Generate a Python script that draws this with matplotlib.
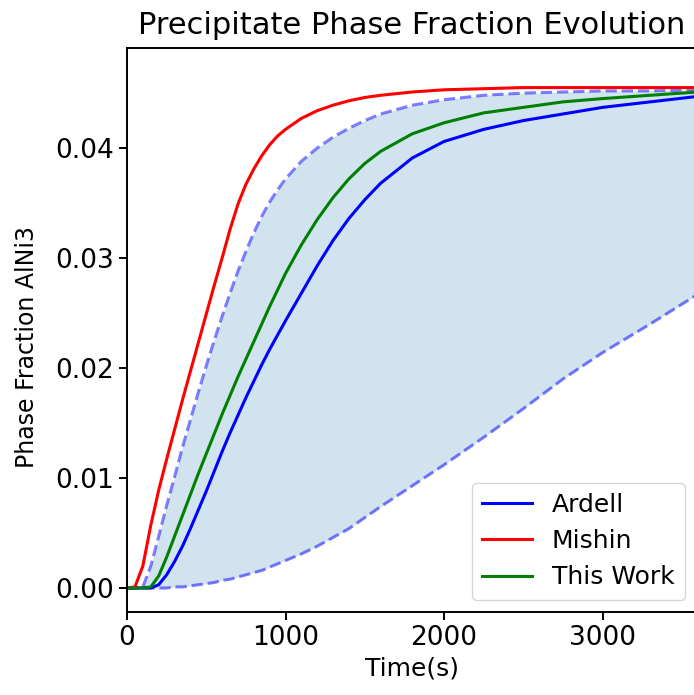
import matplotlib
matplotlib.use("Agg")
import matplotlib.pyplot as plt

# time grid (s)
time_s = [0, 50, 100, 150, 200, 250, 300, 350, 400, 450, 500, 550, 600, 650, 700,
          750, 800, 850, 900, 950, 1000,
          1100, 1200, 1300, 1400, 1500, 1600,
          1800, 2000, 2250, 2500, 2750, 3000, 3300, 3600]

# phase fraction AlNi3
ardell = [0, 0, 0, 0, 0.0003, 0.0012, 0.0024, 0.0038, 0.0054, 0.0071, 0.0088,
          0.0106, 0.0124, 0.0141, 0.0157, 0.0173, 0.0188, 0.0203, 0.0217, 0.0230, 0.0243,
          0.0268, 0.0293, 0.0316, 0.0336, 0.0353, 0.0368,
          0.0391, 0.0406, 0.0417, 0.0425, 0.0431, 0.0437, 0.0442, 0.0447]
mishin = [0, 0.0001, 0.0020, 0.0057, 0.0089, 0.0117, 0.0144, 0.0171, 0.0197, 0.0223,
          0.0249, 0.0275, 0.0300, 0.0326, 0.0349, 0.0367, 0.0381, 0.0393, 0.0403, 0.0411,
          0.0417,
          0.0427, 0.0434, 0.0439, 0.0443, 0.0446, 0.0448,
          0.0451, 0.0453, 0.0454, 0.0455, 0.0455, 0.0455, 0.0455, 0.0455]
this_work = [0, 0, 0, 0.0001, 0.0011, 0.0028, 0.0047, 0.0066, 0.0085, 0.0104, 0.0122,
             0.0140, 0.0158, 0.0175, 0.0192, 0.0208, 0.0224, 0.0240, 0.0256, 0.0271, 0.0286,
             0.0312, 0.0335, 0.0355, 0.0372, 0.0386, 0.0397,
             0.0413, 0.0423, 0.0432, 0.0437, 0.0442, 0.0445, 0.0448, 0.0451]

# uncertainty band
upper = [0, 0, 0.0001, 0.0020, 0.0047, 0.0075, 0.0101, 0.0128, 0.0153, 0.0178, 0.0202,
         0.0225, 0.0247, 0.0268, 0.0288, 0.0306, 0.0323, 0.0338, 0.0351, 0.0362, 0.0372,
         0.0388, 0.0400, 0.0410, 0.0418, 0.0425, 0.0431,
         0.0439, 0.0444, 0.0448, 0.0450, 0.0451, 0.0452, 0.0452, 0.0453]
lower = [0, 0, 0, 0, 0, 0, 0.0001, 0.0001, 0.0002, 0.0003, 0.0004,
         0.0005, 0.0007, 0.0008, 0.0010, 0.0012, 0.0014, 0.0016, 0.0019, 0.0022, 0.0025,
         0.0031, 0.0038, 0.0046, 0.0054, 0.0064, 0.0074,
         0.0093, 0.0112, 0.0137, 0.0163, 0.0190, 0.0214, 0.0240, 0.0267]

W, H = 694, 695
fig = plt.figure(figsize=(W / 100, H / 100), dpi=100)
left, right, top, bottom = 127, 697, 48, 612
ax = fig.add_axes([left / W, (H - bottom) / H, (right - left) / W, (bottom - top) / H])

lw = 2.2
ax.fill_between(time_s, lower, upper, color='C0', alpha=0.2, linewidth=0)
ax.plot(time_s, upper, '--', color='blue', alpha=0.5, lw=lw)
ax.plot(time_s, lower, '--', color='blue', alpha=0.5, lw=lw)
ax.plot(time_s, ardell, color='blue', lw=lw, label='Ardell')
ax.plot(time_s, mishin, color='red', lw=lw, label='Mishin')
ax.plot(time_s, this_work, color='green', lw=lw, label='This Work')

ax.set_xlim(0, (right - left) / 0.1585)
ax.set_ylim(-0.00218, 0.0491)
ax.set_xticks([0, 1000, 2000, 3000])
ax.set_yticks([0, 0.01, 0.02, 0.03, 0.04])

fs = 18
ax.tick_params(labelsize=19, width=1.4, length=6)
for s in ax.spines.values():
    s.set_linewidth(1.4)
ax.set_xlabel('Time(s)', fontsize=fs, labelpad=4)
ax.set_ylabel('Phase Fraction AlNi3', fontsize=17)
ax.yaxis.set_label_coords(-0.155, 0.47)
ax.set_title('Precipitate Phase Fraction Evolution', fontsize=22, pad=10)
ax.legend(loc='lower right', fontsize=fs)

fig.savefig('out.png', dpi=100)
